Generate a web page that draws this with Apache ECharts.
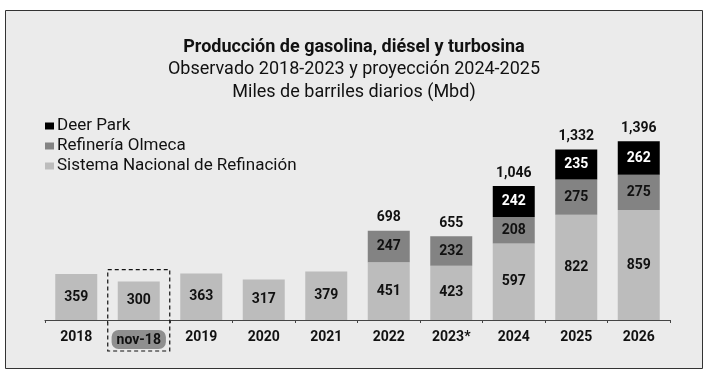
<!DOCTYPE html>
<html>
<head>
<meta charset="utf-8">
<script src="https://cdn.jsdelivr.net/npm/echarts@6/dist/echarts.min.js"></script>
<style>
html, body { margin: 0; padding: 0; background: #fff; }
#chart { width: 708px; height: 377px; }
</style>
</head>
<body>
<div id="chart"></div>
<script>
const years = ['2018', 'nov-18', '2019', '2020', '2021', '2022', '2023*', '2024', '2025', '2026']
const sistemaNacional = [359, 300, 363, 317, 379, 451, 423, 597, 822, 859]
const olmeca = [null, null, null, null, null, 247, 232, 208, 275, 275]
const deerPark = [null, null, null, null, null, null, null, 242, 235, 262]
const totals = [null, null, null, null, null, 698, 655, 1046, 1332, 1396]

const font = 'Roboto, "DejaVu Sans", sans-serif'
let myChart = echarts.init(document.getElementById('chart'))

const fmt = v => v.toLocaleString('en-US')

let option = {
    backgroundColor: '#ffffff',
    animation: false,
    textStyle: { fontFamily: font },
    title: [{
        text: 'Producción de gasolina, diésel y turbosina',
        left: 'center',
        top: 33,
        textStyle: { fontFamily: font, fontSize: 18, fontWeight: 'bold', color: '#111' }
    }, {
        text: 'Observado 2018-2023 y proyección 2024-2025',
        left: 'center',
        top: 55,
        textStyle: { fontFamily: font, fontSize: 18, fontWeight: 'normal', color: '#111' }
    }, {
        text: 'Miles de barriles diarios (Mbd)',
        left: 'center',
        top: 78,
        textStyle: { fontFamily: font, fontSize: 18, fontWeight: 'normal', color: '#111' }
    }],
    legend: {
        orient: 'vertical',
        left: 40,
        top: 112,
        itemWidth: 9,
        itemHeight: 7,
        itemGap: 2,
        icon: 'rect',
        data: ['Deer Park', 'Refinería Olmeca', 'Sistema Nacional de Refinación'],
        textStyle: { fontFamily: font, fontSize: 17, color: '#111', padding: [0, 0, 0, -2], lineHeight: 18 }
    },
    grid: {
        left: 45,
        right: 38,
        top: 128,
        bottom: 57
    },
    xAxis: {
        type: 'category',
        data: years,
        axisLine: { lineStyle: { color: '#444', width: 1.2 } },
        axisTick: { show: true, length: 3, lineStyle: { color: '#444' } },
        axisLabel: {
            interval: 0,
            margin: 10,
            fontFamily: font,
            fontSize: 14,
            fontWeight: 'bold',
            color: '#111',
            formatter: function (val) {
                if (val === 'nov-18') return '{hl|' + val + '}'
                return val
            },
            rich: {
                hl: {
                    fontFamily: font,
                    fontSize: 14,
                    fontWeight: 'bold',
                    color: '#111',
                    backgroundColor: '#8f8f8f',
                    borderRadius: 7,
                    padding: [3, 5, 2, 5]
                }
            }
        }
    },
    yAxis: {
        type: 'value',
        min: 0,
        max: 1500,
        show: false
    },
    series: [{
        name: 'Sistema Nacional de Refinación',
        type: 'bar',
        stack: 'total',
        barWidth: 42,
        data: sistemaNacional,
        itemStyle: { color: '#bcbcbc' },
        label: { show: true, position: 'inside', fontFamily: font, fontSize: 14, fontWeight: 'bold', color: '#111' }
    }, {
        name: 'Refinería Olmeca',
        type: 'bar',
        stack: 'total',
        barWidth: 42,
        data: olmeca,
        itemStyle: { color: '#838383' },
        label: { show: true, position: 'inside', fontFamily: font, fontSize: 14, fontWeight: 'bold', color: '#111' }
    }, {
        name: 'Deer Park',
        type: 'bar',
        stack: 'total',
        barWidth: 42,
        data: deerPark,
        itemStyle: { color: '#000000' },
        label: { show: true, position: 'inside', fontFamily: font, fontSize: 14, fontWeight: 'bold', color: '#fff' }
    }, {
        name: 'Total',
        type: 'bar',
        barWidth: 42,
        barGap: '-100%',
        data: totals,
        silent: true,
        itemStyle: { color: 'rgba(0,0,0,0)' },
        label: {
            show: true,
            position: 'top',
            distance: 6,
            fontFamily: font,
            fontSize: 14,
            fontWeight: 'bold',
            color: '#111',
            formatter: p => fmt(p.value)
        }
    }]
}
myChart.setOption(option)

// frame and dashed highlight around nov-18, placed from the axis scale
const cx = myChart.convertToPixel({ xAxisIndex: 0 }, 'nov-18')
const yTop = myChart.convertToPixel({ yAxisIndex: 0 }, 300)
myChart.setOption({
    graphic: [{
        type: 'rect',
        z: -10,
        shape: { x: 5.5, y: 10.5, width: 697, height: 358 },
        style: { fill: '#ebebeb', stroke: '#333', lineWidth: 1 }
    }, {
        type: 'rect',
        z: 10,
        shape: { x: cx - 31, y: yTop - 12, width: 62, height: 351 - yTop + 12 },
        style: { fill: 'none', stroke: '#111', lineWidth: 1.2, lineDash: [4, 3] }
    }]
})
window.addEventListener('resize', function () {
    myChart.resize()
})
</script>
</body>
</html>
